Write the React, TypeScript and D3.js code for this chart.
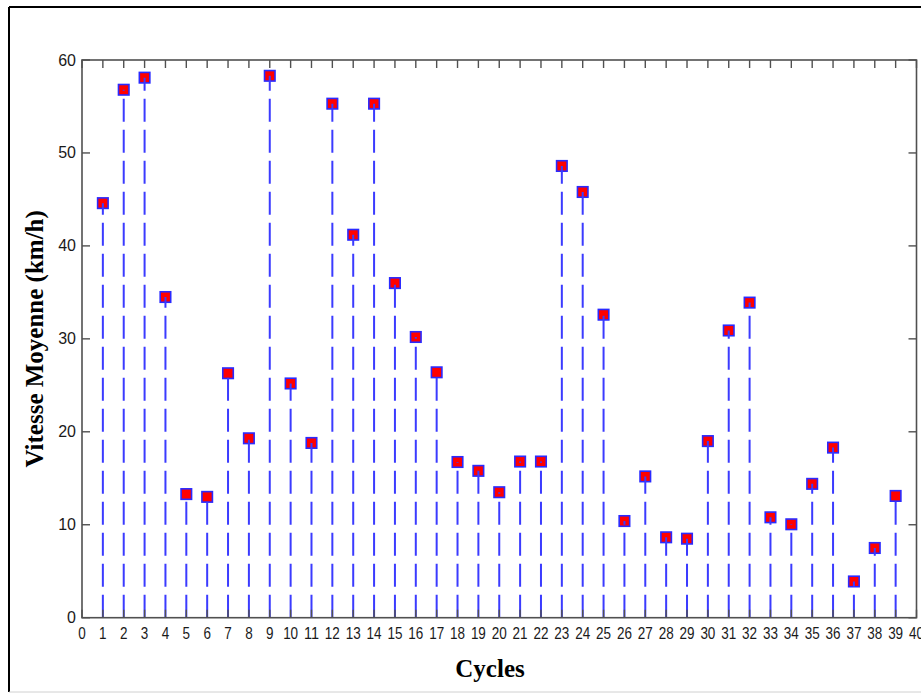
import React from "react";
import * as d3 from "d3";

const cycles: number[] = Array.from({ length: 39 }, (_, i) => i + 1);
const speeds: number[] = [
  44.6, 56.8, 58.1, 34.5, 13.3, 13.0, 26.3, 19.3, 58.3, 25.2,
  18.8, 55.3, 41.2, 55.3, 36.0, 30.2, 26.4, 16.75, 15.8, 13.5,
  16.8, 16.8, 48.6, 45.8, 32.6, 10.4, 15.2, 8.65, 8.5, 19.0,
  30.9, 33.9, 10.8, 10.05, 14.4, 18.3, 3.9, 7.5, 13.1,
];
const xTicks: number[] = d3.range(0, 41);
const yTicks: number[] = [0, 10, 20, 30, 40, 50, 60];
const xTitle = "Cycles";
const yTitle = "Vitesse Moyenne (km/h)";

export default function App() {
  const W = 921, H = 693;
  const left = 82, right = 916.5, top = 60, bottom = 617.7;
  const x = d3.scaleLinear().domain([0, 40]).range([left, right]);
  const y = d3.scaleLinear().domain([0, 60]).range([bottom, top]);
  const axisColor = "#505050";
  const stemColor = "#3b3bff";
  const tick = 8;
  const ms = 10.5;

  return (
    <svg
      width={W}
      height={H}
      viewBox={`0 0 ${W} ${H}`}
      style={{ position: "absolute", left: 0, top: 0, display: "block", background: "#fff" }}
    >
      {/* outer frame */}
      <line x1={9} y1={7} x2={W} y2={7} stroke="#000" strokeWidth={2} />
      <line x1={9} y1={7} x2={9} y2={692} stroke="#000" strokeWidth={2} />
      <line x1={9} y1={692} x2={W} y2={692} stroke="#d0d0d0" strokeWidth={1} />

      {/* markers */}
      {cycles.map((c, i) => (
        <rect
          key={"m" + c}
          x={x(c) - ms / 2}
          y={y(speeds[i]) - ms / 2}
          width={ms}
          height={ms}
          fill="#ff0000"
          stroke="#2a2aff"
          strokeWidth={1.6}
        />
      ))}
      {/* stems */}
      {cycles.map((c, i) => (
        <line
          key={"s" + c}
          x1={x(c)}
          x2={x(c)}
          y1={y(0)}
          y2={y(speeds[i])}
          stroke={stemColor}
          strokeWidth={2}
          strokeDasharray="23 8"
        />
      ))}

      {/* axes box */}
      <rect x={left} y={top} width={right - left} height={bottom - top} fill="none" stroke={axisColor} strokeWidth={1.6} />
      {xTicks.map((t) => (
        <g key={"xt" + t}>
          <line x1={x(t)} x2={x(t)} y1={bottom} y2={bottom - tick} stroke={axisColor} strokeWidth={1.4} />
          <line x1={x(t)} x2={x(t)} y1={top} y2={top + tick} stroke={axisColor} strokeWidth={1.4} />
          <text
            x={x(t)}
            y={638.5}
            textAnchor="middle"
            fontFamily="Liberation Sans, Arial, sans-serif"
            fontSize={16.5}
            fill="#1a1a1a"
            textLength={String(t).length * 7.5}
            lengthAdjust="spacingAndGlyphs"
          >
            {t}
          </text>
        </g>
      ))}
      {yTicks.map((t) => (
        <g key={"yt" + t}>
          <line x1={left} x2={left + tick} y1={y(t)} y2={y(t)} stroke={axisColor} strokeWidth={1.4} />
          <line x1={right} x2={right - tick} y1={y(t)} y2={y(t)} stroke={axisColor} strokeWidth={1.4} />
          <text
            x={76}
            y={y(t) + 5.5}
            textAnchor="end"
            fontFamily="Liberation Sans, Arial, sans-serif"
            fontSize={16}
            fill="#1a1a1a"
          >
            {t}
          </text>
        </g>
      ))}

      {/* titles */}
      <text
        x={490}
        y={676.5}
        textAnchor="middle"
        fontFamily="Liberation Serif, Times New Roman, serif"
        fontWeight="bold"
        fontSize={25}
        fill="#000"
      >
        {xTitle}
      </text>
      <text
        transform={`translate(43, ${(top + bottom) / 2}) rotate(-90)`}
        textAnchor="middle"
        fontFamily="Liberation Serif, Times New Roman, serif"
        fontWeight="bold"
        fontSize={25}
        fill="#000"
      >
        {yTitle}
      </text>
    </svg>
  );
}
